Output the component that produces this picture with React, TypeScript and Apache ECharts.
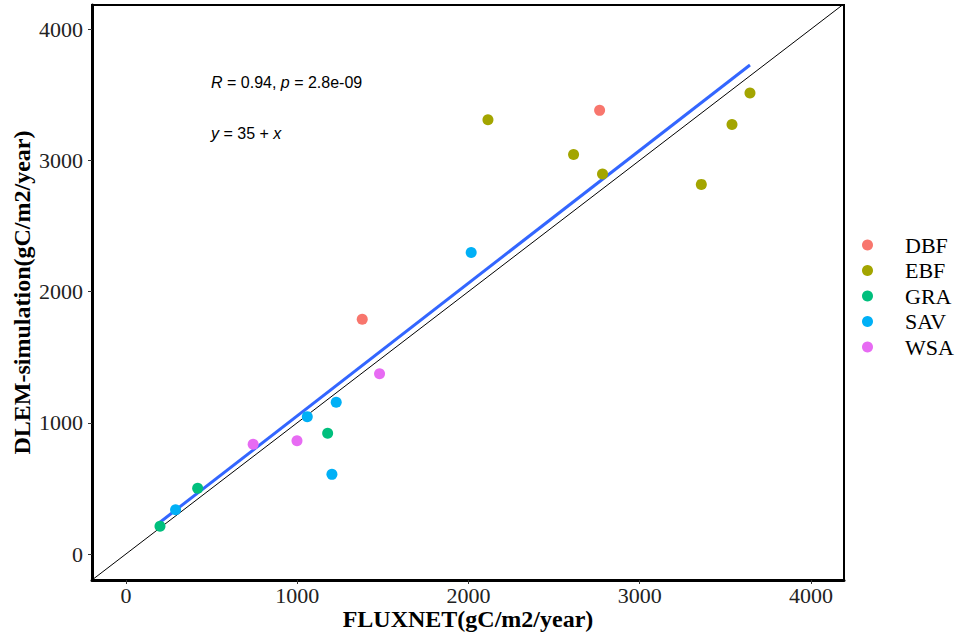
import React, { useEffect, useRef } from "react";
import * as echarts from "echarts";

const groupNames = ["DBF", "EBF", "GRA", "SAV", "WSA"];
const groupColors = ["#F8766D", "#A3A500", "#00BF7D", "#00B0F6", "#E76BF3"];

// FLUXNET (x) and DLEM-simulation (y), gC/m2/year
const dbfX = [2766, 1380];
const dbfY = [3381, 1789];
const ebfX = [2114, 2614, 2783, 3360, 3539, 3644];
const ebfY = [3309, 3045, 2896, 2817, 3274, 3514];
const graX = [199, 419, 1178];
const graY = [211, 501, 920];
const savX = [290, 1059, 1228, 1203, 2016];
const savY = [338, 1047, 1156, 607, 2297];
const wsaX = [743, 999, 1481];
const wsaY = [836, 864, 1374];

const tickValues = [0, 1000, 2000, 3000, 4000];
const xMin = -198;
const xMax = 4193;
const yMin = -198;
const yMax = 4184;

const statText = "{i|R} = 0.94, {i|p} = 2.8e-09";
const eqText = "{i|y} = 35 + {i|x}";

const groupX = [dbfX, ebfX, graX, savX, wsaX];
const groupY = [dbfY, ebfY, graY, savY, wsaY];

function fitLine() {
  const xs: number[] = [];
  const ys: number[] = [];
  groupX.forEach((arr, g) => arr.forEach((v, i) => { xs.push(v); ys.push(groupY[g][i]); }));
  const n = xs.length;
  const mx = xs.reduce((a, b) => a + b, 0) / n;
  const my = ys.reduce((a, b) => a + b, 0) / n;
  let sxy = 0, sxx = 0;
  for (let i = 0; i < n; i++) { sxy += (xs[i] - mx) * (ys[i] - my); sxx += (xs[i] - mx) ** 2; }
  const slope = sxy / sxx;
  const icpt = my - slope * mx;
  const x0 = Math.min(...xs), x1 = Math.max(...xs);
  return [[x0, icpt + slope * x0], [x1, icpt + slope * x1]];
}

const serif = "'Liberation Serif', 'Times New Roman', serif";
const sans = "'Liberation Sans', Arial, sans-serif";
const plain = (v: number) => String(v);

export default function App() {
  const ref = useRef<HTMLDivElement>(null);
  useEffect(() => {
    if (!ref.current) return;
    const chart = echarts.init(ref.current, undefined, { renderer: "svg" });
    const scatterSeries = groupNames.map((name, g) => ({
      name,
      type: "scatter",
      symbol: "circle",
      symbolSize: 11,
      itemStyle: { color: groupColors[g], opacity: 1 },
      data: groupX[g].map((v, i) => [v, groupY[g][i]]),
      z: 5,
    }));
    chart.setOption({
      animation: false,
      backgroundColor: "#fff",
      grid: {
        left: 92, right: 111, top: 5, bottom: 58,
        outerBoundsMode: "none",
        containLabel: false,
        show: true, borderColor: "#000", borderWidth: 2, backgroundColor: "transparent",
      },
      legend: {
        orient: "vertical",
        left: 857,
        top: 229,
        data: groupNames,
        icon: "circle",
        itemWidth: 11,
        itemHeight: 11,
        itemGap: 3.5,
        textStyle: { fontFamily: serif, fontSize: 22, color: "#000", lineHeight: 22, padding: [0, 0, 0, 27] },
      },
      xAxis: {
        type: "value",
        min: xMin,
        max: xMax,
        name: "FLUXNET(gC/m2/year)",
        nameLocation: "middle",
        nameGap: 28,
        nameMoveOverlap: false,
        nameTextStyle: { fontFamily: serif, fontSize: 24, fontWeight: "bold", color: "#000", lineHeight: 22 },
        axisLine: { show: true, onZero: false, lineStyle: { color: "#000", width: 3 } },
        axisTick: { show: true, customValues: tickValues, length: 4, lineStyle: { color: "#333", width: 1 } },
        axisLabel: { customValues: tickValues, formatter: plain, margin: 6, fontFamily: serif, fontSize: 22, lineHeight: 19, color: "#222" },
        splitLine: { show: false },
      },
      yAxis: {
        type: "value",
        min: yMin,
        max: yMax,
        name: "DLEM-simulation(gC/m2/year)",
        nameLocation: "middle",
        nameGap: 58,
        nameRotate: 90,
        nameMoveOverlap: false,
        nameTextStyle: { fontFamily: serif, fontSize: 24, fontWeight: "bold", color: "#000" },
        axisLine: { show: true, onZero: false, lineStyle: { color: "#000", width: 3 } },
        axisTick: { show: true, customValues: tickValues, length: 4, lineStyle: { color: "#333", width: 1 } },
        axisLabel: { customValues: tickValues, formatter: plain, margin: 9, fontFamily: serif, fontSize: 22, color: "#222" },
        splitLine: { show: false },
      },
      graphic: [
        {
          type: "text",
          x: 211,
          y: 82,
          style: {
            text: statText,
            font: `16px ${sans}`,
            fill: "#000",
            verticalAlign: "middle",
            rich: { i: { fontStyle: "italic", fontFamily: sans, fontSize: 16 } },
          },
        },
        {
          type: "text",
          x: 211,
          y: 133,
          style: {
            text: eqText,
            font: `16px ${sans}`,
            fill: "#000",
            verticalAlign: "middle",
            rich: { i: { fontStyle: "italic", fontFamily: sans, fontSize: 16 } },
          },
        },
      ],
      series: [
        {
          name: "1:1",
          type: "line",
          data: [[xMin, xMin], [xMax, xMax]],
          symbol: "none",
          lineStyle: { color: "#000", width: 1 },
          z: 2,
          silent: true,
        },
        {
          name: "fit",
          type: "line",
          data: fitLine(),
          symbol: "none",
          lineStyle: { color: "#3366FF", width: 3 },
          z: 3,
          silent: true,
        },
        ...scatterSeries,
      ],
    });
    return () => chart.dispose();
  }, []);
  return <div ref={ref} style={{ position: "absolute", left: 0, top: 0, width: 955, height: 638 }} />;
}
